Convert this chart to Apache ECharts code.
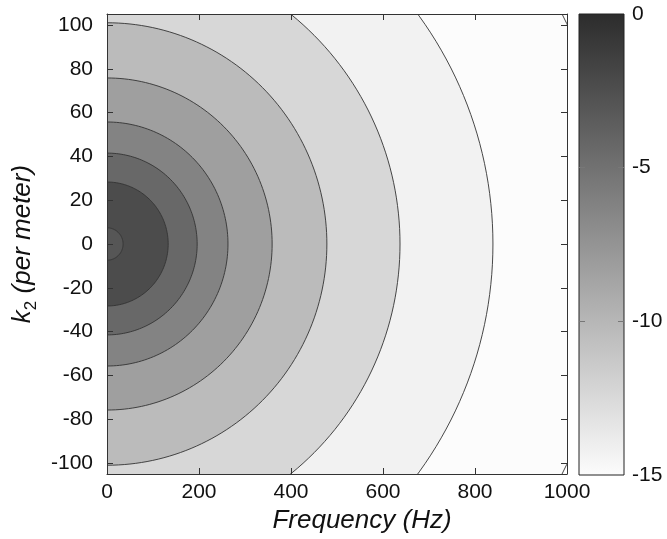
<!DOCTYPE html>
<html>
<head>
<meta charset="utf-8">
<script src="https://cdn.jsdelivr.net/npm/echarts@6/dist/echarts.min.js"></script>
<style>
  html, body { margin: 0; padding: 0; background: #fff; }
  #chart { width: 667px; height: 539px; }
</style>
</head>
<body>
<div id="chart"></div>
<script>
// Axis ticks
const freqTicks = [0, 200, 400, 600, 800, 1000];
const k2Ticks = [-100, -80, -60, -40, -20, 0, 20, 40, 60, 80, 100];
const barTicks = [-15, -10, -5, 0];

// Contour lines, innermost first: half-width along Frequency (at k2 = 0)
// and half-height along k2 (at f = 0)
const contourFreq = [133, 196, 263, 359, 478, 637, 839, 1107];
const contourK2 = [28.3, 41.5, 55.7, 75.8, 101, 134.7, 177, 234];
// Level filling the inside of each contour line
const contourLevel = [-2.3, -4.3, -6.3, -8.3, -10.3, -12.3, -14.3, -15];

// Small ring cluster at the origin
const ringFreq = [35, 29, 23, 18, 13, 8, 3];
const ringK2 = [7.4, 6.1, 4.9, 3.8, 2.7, 1.7, 0.7];
const ringLevel = [-3.0, -3.6, -4.2, -5.0, -6.2, -8.5, -15.0];

const FONT = 'Liberation Sans, Arial, Helvetica, sans-serif';
const grayMap = ['#fcfcfc', '#2c2c2c'];

// outermost contour first so inner ones paint on top
function toItems(fr, kk, lv) {
  const out = [];
  for (let i = fr.length - 1; i >= 0; i--) out.push([fr[i], kk[i], lv[i]]);
  return out;
}

function renderContour(params, api) {
  const a = api.value(0), b = api.value(1);
  const pts = [];
  for (let deg = -90; deg <= 90; deg += 1.5) {
    const t = deg * Math.PI / 180;
    pts.push(api.coord([a * Math.cos(t), b * Math.sin(t)]));
  }
  return {
    type: 'polygon',
    shape: { points: pts },
    style: { fill: api.visual('color'), stroke: '#333', lineWidth: 0.9 }
  };
}

function renderBar(params, api) {
  const p0 = api.coord([0, api.value(1)]);
  const p1 = api.coord([1, api.value(0)]);
  return {
    type: 'rect',
    shape: { x: p0[0], y: p0[1], width: p1[0] - p0[0], height: p1[1] - p0[1] },
    style: {
      fill: new echarts.graphic.LinearGradient(0, 0, 0, 1, [
        { offset: 0, color: grayMap[1] },
        { offset: 1, color: grayMap[0] }
      ]),
      stroke: '#222', lineWidth: 1
    }
  };
}

const plain = v => String(v);
const labelStyle = { fontSize: 21, fontFamily: FONT, color: '#111', formatter: plain };
const lineStyle = { color: '#333', width: 1 };

const chart = echarts.init(document.getElementById('chart'), null, { renderer: 'canvas' });
chart.setOption({
  animation: false,
  backgroundColor: '#fff',
  visualMap: {
    show: false, type: 'continuous', min: -15, max: 0, dimension: 2,
    seriesIndex: [0, 1], inRange: { color: grayMap }
  },
  grid: [
    { left: 107, top: 14, width: 460, height: 460, outerBoundsMode: 'none', containLabel: false },
    { left: 579, top: 14, width: 45, height: 461, outerBoundsMode: 'none', containLabel: false }
  ],
  xAxis: [
    {
      gridIndex: 0, type: 'value', min: 0, max: 1000, position: 'bottom', z: 10,
      axisLine: { show: true, onZero: false, lineStyle },
      axisTick: { show: true, inside: true, length: 6, customValues: freqTicks.slice(1, -1), lineStyle },
      axisLabel: Object.assign({ customValues: freqTicks, margin: 8 }, labelStyle),
      splitLine: { show: false },
      name: 'Frequency (Hz)', nameLocation: 'middle', nameGap: 26,
      nameTextStyle: { fontSize: 26, fontStyle: 'italic', fontFamily: FONT, color: '#111', padding: [0, 0, 0, 50] }
    },
    {
      gridIndex: 0, type: 'value', min: 0, max: 1000, position: 'top', z: 10,
      axisLine: { show: true, onZero: false, lineStyle },
      axisTick: { show: true, inside: true, length: 6, customValues: freqTicks.slice(1, -1), lineStyle },
      axisLabel: { show: false }, splitLine: { show: false }
    },
    { gridIndex: 1, type: 'value', min: 0, max: 1, show: false }
  ],
  yAxis: [
    {
      gridIndex: 0, type: 'value', min: -105, max: 105, position: 'left', z: 10,
      axisLine: { show: true, onZero: false, lineStyle },
      axisTick: { show: true, inside: true, length: 6, customValues: k2Ticks, lineStyle },
      axisLabel: Object.assign({ customValues: k2Ticks, margin: 14 }, labelStyle),
      splitLine: { show: false },
      name: '{it|k}{sub|2}{it| (per meter)}', nameLocation: 'middle', nameGap: 57,
      nameTextStyle: {
        color: '#111',
        rich: {
          it: { fontSize: 26, fontStyle: 'italic', fontFamily: FONT, color: '#111', lineHeight: 34 },
          sub: { fontSize: 17, fontFamily: FONT, color: '#111', lineHeight: 17, verticalAlign: 'bottom' }
        }
      }
    },
    {
      gridIndex: 0, type: 'value', min: -105, max: 105, position: 'right', z: 10,
      axisLine: { show: true, onZero: false, lineStyle },
      axisTick: { show: true, inside: true, length: 6, customValues: k2Ticks, lineStyle },
      axisLabel: { show: false }, splitLine: { show: false }
    },
    {
      gridIndex: 1, type: 'value', min: -15, max: 0, position: 'left', z: 10,
      axisLine: { show: false },
      axisTick: { show: true, inside: true, length: 6, customValues: [-10, -5], lineStyle: { color: '#777' } },
      axisLabel: { show: false }, splitLine: { show: false }
    },
    {
      gridIndex: 1, type: 'value', min: -15, max: 0, interval: 5, position: 'right', z: 10,
      axisLine: { show: false },
      axisTick: { show: true, inside: true, length: 6, customValues: [-10, -5], lineStyle: { color: '#777' } },
      axisLabel: Object.assign({ customValues: barTicks, margin: 8 }, labelStyle),
      splitLine: { show: false }
    }
  ],
  series: [
    {
      type: 'custom', xAxisIndex: 0, yAxisIndex: 0, clip: true, z: 2,
      renderItem: renderContour,
      data: toItems(contourFreq, contourK2, contourLevel)
    },
    {
      type: 'custom', xAxisIndex: 0, yAxisIndex: 0, clip: true, z: 3,
      renderItem: renderContour,
      data: toItems(ringFreq, ringK2, ringLevel)
    },
    {
      type: 'custom', xAxisIndex: 2, yAxisIndex: 2, z: 2,
      renderItem: renderBar,
      data: [[barTicks[0], barTicks[barTicks.length - 1]]]
    }
  ]
});
</script>
</body>
</html>
